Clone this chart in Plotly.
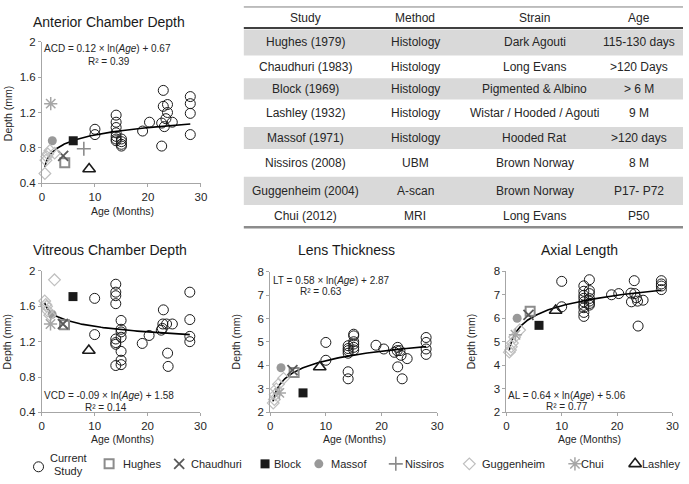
import math
import plotly.graph_objects as go

W, H = 689, 484

# ---------------- data ----------------
# Current study (open circles)
ACD_AGE = [10, 10, 14, 14, 14, 14, 14, 14, 14, 15, 15, 15, 15, 19, 20.3,
           22.6, 22.6, 22.9, 22.9, 23.1, 23.4, 23.7, 23.7, 24.6, 28, 28, 28, 28]
ACD_VAL = [1.01, 0.95, 1.17, 1.09, 1.03, 0.97, 0.93, 0.90, 0.88, 0.90, 0.87, 0.84, 0.82, 0.99, 1.09,
           1.08, 0.82, 1.45, 1.27, 1.04, 1.13, 1.29, 1.20, 1.09, 1.38, 1.30, 1.19, 0.95]

VCD_AGE = [10, 10, 14, 14, 14, 14, 14, 14, 14, 14, 15, 15, 15, 15, 15, 15, 15, 19, 20.3,
           22.6, 22.8, 23.0, 22.9, 23.6, 24.7, 23.8, 23.9, 28, 28, 28, 28]
VCD_VAL = [1.69, 1.28, 1.85, 1.76, 1.72, 1.63, 1.23, 1.19, 1.17, 0.93, 1.44, 1.34, 1.31, 1.25, 1.09, 0.99, 0.94, 1.18, 1.27,
           1.33, 1.35, 1.56, 1.40, 1.40, 1.40, 1.07, 0.92, 1.76, 1.45, 1.26, 1.20]

LT_AGE = [10, 10, 14, 14, 14, 14, 14, 14, 15, 15, 15, 15, 15, 15, 19, 20.4,
          22.3, 22.8, 22.9, 23.3, 23.5, 24.6, 22.9, 23.7, 28, 28, 28, 28]
LT_VAL = [4.98, 4.22, 4.84, 4.72, 4.63, 4.52, 3.73, 3.43, 5.33, 5.26, 5.01, 4.91, 4.77, 4.66, 4.86, 4.70,
          4.56, 4.63, 4.77, 4.63, 4.43, 4.29, 3.94, 3.43, 5.19, 4.98, 4.70, 4.47]

AL_AGE = [10, 10, 14, 14, 14, 14, 14, 14, 14, 14, 14, 15, 15, 15, 15, 15, 15, 15, 19, 20.3,
          22.5, 23.1, 22.6, 23.5, 23.2, 23.7, 24.7, 23.8, 28, 28, 28, 28]
AL_VAL = [7.57, 6.49, 7.38, 7.15, 6.98, 6.85, 6.70, 6.55, 6.45, 6.25, 6.08, 7.64, 7.18, 7.05, 6.84, 6.73, 6.63, 6.56, 7.00, 7.05,
          7.07, 7.60, 6.70, 6.87, 7.05, 6.73, 6.77, 5.67, 7.60, 7.46, 7.37, 7.22]

# Literature values: (ages, values) for each panel
HUGHES_AGE = [4.3]
HUGHES = {"ACD": [0.63], "VCD": [1.39], "LT": [3.70], "AL": [6.30]}
CHAUDHURI_AGE = [4.0]
CHAUDHURI = {"ACD": [0.71], "VCD": [1.40], "LT": [3.80], "AL": [6.15]}
BLOCK_AGE = [5.9]
BLOCK = {"ACD": [0.88], "VCD": [1.71], "LT": [2.83], "AL": [5.70]}
MASSOF_AGE = [1.95]
MASSOF = {"ACD": [0.88], "VCD": [1.51], "LT": [3.90], "AL": [6.00]}
NISSIROS_AGE = [7.9]
NISSIROS = {"ACD": [0.79], "VCD": [None], "LT": [None], "AL": [None]}
GUGG_AGE = [0.55, 0.75, 0.9, 1.1, 1.5, 2.4]
GUGG = {"ACD": [0.51, 0.66, 0.70, 0.73, 0.77, 0.74],
        "VCD": [1.66, 1.62, 1.60, 1.55, 1.50, 1.90],
        "LT": [2.40, 2.55, 2.75, 3.00, 3.20, 3.45],
        "AL": [4.56, 4.65, 4.79, 4.95, 5.20, 5.50]}
CHUI_AGE = [1.65]
CHUI = {"ACD": [1.30], "VCD": [1.40], "LT": [2.83], "AL": [5.30]}
LASHLEY_AGE = [8.9]
LASHLEY = {"ACD": [0.56], "VCD": [1.10], "LT": [3.93], "AL": [6.33]}

# logarithmic fits (slope, intercept) and R^2 as printed on the chart
FITS = {"ACD": (0.12, 0.67, 0.39), "VCD": (-0.09, 1.58, 0.14),
        "LT": (0.58, 2.87, 0.63), "AL": (0.64, 5.06, 0.77)}
FIT_AGE_MIN, FIT_AGE_MAX = 0.5, 28

PANEL_TITLES = {"ACD": "Anterior Chamber Depth", "VCD": "Vitreous Chamber Depth",
                "LT": "Lens Thickness", "AL": "Axial Length"}

# table
TABLE_HEADER = ["Study", "Method", "Strain", "Age"]
TABLE_ROWS = [
    ["Hughes (1979)", "Histology", "Dark Agouti", "115-130 days"],
    ["Chaudhuri (1983)", "Histology", "Long Evans", ">120 Days"],
    ["Block (1969)", "Histology", "Pigmented & Albino", "> 6 M"],
    ["Lashley (1932)", "Histology", "Wistar / Hooded / Agouti", "9 M"],
    ["Massof (1971)", "Histology", "Hooded Rat", ">120 days"],
    ["Nissiros (2008)", "UBM", "Brown Norway", "8 M"],
    ["Guggenheim (2004)", "A-scan", "Brown Norway", "P17- P72"],
    ["Chui (2012)", "MRI", "Long Evans", "P50"],
]

# ---------------- styles ----------------
FONT = "Liberation Sans, Arial, sans-serif"
TXT = "#262626"
AXC = "#a6a6a6"

STUDIES = [
    ("Current Study", None, None, dict(symbol="circle-open", size=10, color="#1a1a1a", line=dict(width=1, color="#1a1a1a"))),
    ("Hughes", HUGHES_AGE, HUGHES, dict(symbol="square-open", size=9, color="#8c8c8c", line=dict(width=2, color="#8c8c8c"))),
    ("Chaudhuri", CHAUDHURI_AGE, CHAUDHURI, dict(symbol="x-thin-open", size=10, color="#595959", line=dict(width=1.8, color="#595959"))),
    ("Block", BLOCK_AGE, BLOCK, dict(symbol="square", size=9, color="#1a1a1a")),
    ("Massof", MASSOF_AGE, MASSOF, dict(symbol="circle", size=9, color="#999999")),
    ("Nissiros", NISSIROS_AGE, NISSIROS, dict(symbol="cross-thin-open", size=10, color="#8c8c8c", line=dict(width=1.6, color="#8c8c8c"))),
    ("Guggenheim", GUGG_AGE, GUGG, dict(symbol="diamond-open", size=9, color="#bfbfbf", line=dict(width=1.2, color="#bfbfbf"))),
    ("Chui", CHUI_AGE, CHUI, dict(symbol="asterisk-open", size=11, color="#a6a6a6", line=dict(width=1.5, color="#a6a6a6"))),
    ("Lashley", LASHLEY_AGE, LASHLEY, dict(symbol="triangle-up-open", size=11, color="#1a1a1a", line=dict(width=1.6, color="#1a1a1a"))),
]
CURRENT = {"ACD": (ACD_AGE, ACD_VAL), "VCD": (VCD_AGE, VCD_VAL), "LT": (LT_AGE, LT_VAL), "AL": (AL_AGE, AL_VAL)}

# panel geometry in pixels: x0, x1 (age 0..30), ytop, ybottom
PANELS = {
    "ACD": dict(ax="", px=(39.5, 200.5), py=(36.7, 181.7), yr=(0.4, 2), dt=0.4),
    "VCD": dict(ax="2", px=(39.3, 200.0), py=(271.7, 416.7), yr=(0.4, 2), dt=0.4),
    "LT": dict(ax="3", px=(270.7, 440.0), py=(272.3, 416.7), yr=(2, 8), dt=1),
    "AL": dict(ax="4", px=(510.0, 678.3), py=(272.0, 416.7), yr=(2, 8), dt=1),
}


def px_x(v):
    return v / W


def px_y(v):
    return 1 - v / H


fig = go.Figure()
annotations = []
shapes = []

for key, p in PANELS.items():
    xa, ya = "x" + p["ax"], "y" + p["ax"]
    # current study
    ages, vals = CURRENT[key]
    fig.add_trace(go.Scatter(x=ages, y=vals, mode="markers", marker=STUDIES[0][3],
                             xaxis=xa, yaxis=ya, showlegend=False, cliponaxis=False))
    # trend line
    a, b, r2 = FITS[key]
    n = 120
    fx = [FIT_AGE_MIN * (FIT_AGE_MAX / FIT_AGE_MIN) ** (i / (n - 1)) for i in range(n)]
    fy = [a * math.log(x) + b for x in fx]
    fig.add_trace(go.Scatter(x=fx, y=fy, mode="lines", line=dict(color="#000000", width=1.6),
                             xaxis=xa, yaxis=ya, showlegend=False, hoverinfo="skip"))
    # literature
    for name, sa, sd, st in STUDIES[1:]:
        fig.add_trace(go.Scatter(x=sa, y=sd[key], mode="markers", marker=st,
                                 xaxis=xa, yaxis=ya, showlegend=False, cliponaxis=False))
    axis_common = dict(showgrid=False, zeroline=False, showline=True, linecolor=AXC, linewidth=1,
                       ticks="outside", ticklen=3, tickcolor=AXC,
                       tickfont=dict(family=FONT, size=11.5, color=TXT))
    fig.layout["xaxis" + p["ax"]] = dict(domain=[px_x(p["px"][0]), px_x(p["px"][1])], range=[0, 30],
                                         dtick=10, tick0=0, anchor=ya, **axis_common)
    fig.layout["yaxis" + p["ax"]] = dict(domain=[px_y(p["py"][1]), px_y(p["py"][0])], range=list(p["yr"]),
                                         dtick=p["dt"], tick0=p["yr"][0], anchor=xa, **axis_common)

# titles, axis titles, equations
def ann(text, x, y, size, xanchor="center", textangle=0, color=TXT):
    annotations.append(dict(text=text, x=px_x(x), y=px_y(y), xref="paper", yref="paper",
                            xanchor=xanchor, yanchor="middle", showarrow=False, textangle=textangle,
                            borderpad=0, font=dict(family=FONT, size=size, color=color)))

TITLE_POS = {"ACD": (107, 16), "VCD": (108, 250), "LT": (348, 250), "AL": (584, 250)}
for k, (x, y) in TITLE_POS.items():
    ann(PANEL_TITLES[k], x, y, 14, color="#1a1a1a")

XT_POS = {"ACD": (121, 210), "VCD": (121, 444), "LT": (356, 444), "AL": (594, 444)}
for k, (x, y) in XT_POS.items():
    ann("Age (Months)", x, y, 10.5)
YT_POS = {"ACD": (5, 110), "VCD": (5, 344), "LT": (237, 344), "AL": (475, 344)}
for k, (x, y) in YT_POS.items():
    ann("Depth (mm)", x, y, 10.5, textangle=-90)

EQ_POS = {"ACD": ((106, 44), (107, 57)), "VCD": ((107, 399), (104, 412)),
          "LT": ((333, 281), (322, 293)), "AL": ((571, 399), (571, 411))}
for k, (e, r) in EQ_POS.items():
    a, b, r2 = FITS[k]
    eq = f"{k} = {a:.2f} × ln(<i>Age</i>) + {b:.2f}"
    ann(eq, e[0], e[1], 10)
    ann(f"R² = {r2:.2f}", r[0], r[1], 10)

# ---------------- table ----------------
TX0, TX1 = 244, 689
COL_X = [306.7, 417.7, 539, 644]
ROW_BOUNDS = [24, 50.7, 74, 96, 124, 146.7, 175, 204, 226.7]
SHADED = [0, 2, 4, 6]
for i in SHADED:
    shapes.append(dict(type="rect", xref="paper", yref="paper", x0=px_x(TX0), x1=px_x(TX1),
                       y0=px_y(ROW_BOUNDS[i + 1]), y1=px_y(ROW_BOUNDS[i]),
                       fillcolor="#d9d9d9", line=dict(width=0), layer="below"))
for yy, wd, col in [(1, 1, "#7f7f7f"), (22.5, 2, "#404040"), (227, 2.5, "#8c8c8c")]:
    shapes.append(dict(type="line", xref="paper", yref="paper", x0=px_x(TX0), x1=px_x(TX1),
                       y0=px_y(yy), y1=px_y(yy), line=dict(color=col, width=wd)))
for j, h in enumerate(TABLE_HEADER):
    ann(h, COL_X[j], 12, 12)
for i, row in enumerate(TABLE_ROWS):
    yc = (ROW_BOUNDS[i] + ROW_BOUNDS[i + 1]) / 2
    for j, c in enumerate(row):
        ann(c, COL_X[j], yc, 12)

# ---------------- legend (key symbols on a hidden page-sized axis) ----------------
LEGEND_KEY_X = [36, 107.5, 178.5, 265.5, 320, 398, 472.5, 579.5, 640.5]
LEGEND_TEXT_X = [66, 121, 189.5, 274, 331.5, 406.5, 484, 585, 646.5]
LEGEND_Y = 469.5
for (name, _, _, st), kx in zip(STUDIES, LEGEND_KEY_X):
    fig.add_trace(go.Scatter(x=[kx], y=[LEGEND_Y + (3 if name == "Current Study" else 0)], mode="markers",
                             marker=st, xaxis="x5", yaxis="y5", showlegend=False, hoverinfo="skip",
                             cliponaxis=False))
for (name, _, _, _), tx in zip(STUDIES, LEGEND_TEXT_X):
    if name == "Current Study":
        ann("Current", tx, 463.5, 11)
        ann("Study", tx, 476.5, 11)
    else:
        ann(name, tx, LEGEND_Y, 11, xanchor="left")

fig.layout["xaxis5"] = dict(domain=[0, 1], range=[0, W], visible=False, fixedrange=True)
fig.layout["yaxis5"] = dict(domain=[0, 1], range=[H, 0], visible=False, fixedrange=True, anchor="x5")

fig.update_layout(width=W, height=H, margin=dict(l=0, r=0, t=0, b=0),
                  paper_bgcolor="white", plot_bgcolor="rgba(0,0,0,0)",
                  annotations=annotations, shapes=shapes, showlegend=False,
                  font=dict(family=FONT, color=TXT))

POST = ("document.documentElement.style.margin='0';document.body.style.margin='0';"
        "document.body.style.overflow='hidden';"
        "var d=document.getElementById('{plot_id}');d.style.position='fixed';"
        "d.style.top='0px';d.style.left='0px';")
fig.write_html("out.html", config={"displayModeBar": False}, post_script=POST)
